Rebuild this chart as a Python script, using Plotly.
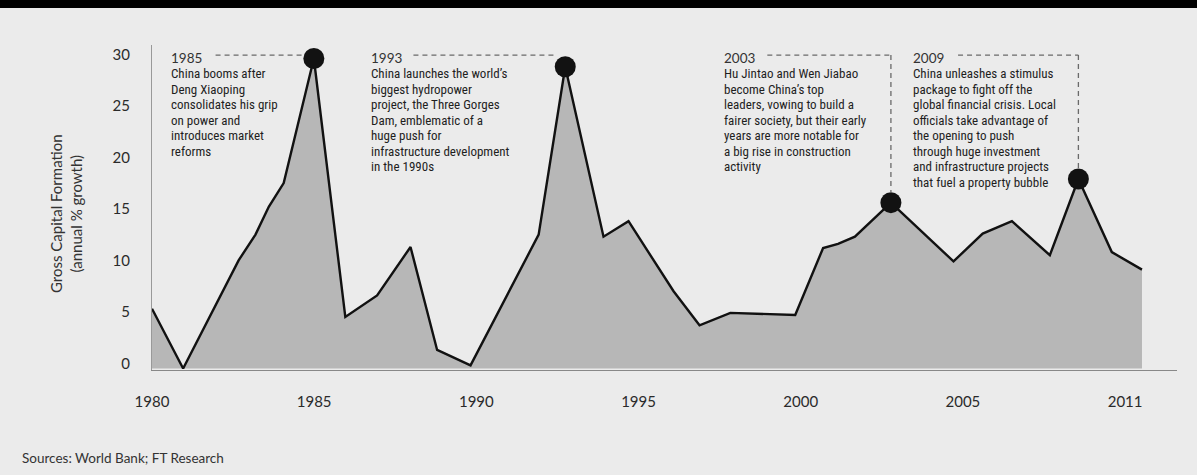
import plotly.graph_objects as go

# ---- data (positions on the time axis, in years, as drawn) ----
x_pos = [1980.00, 1980.96, 1982.67, 1983.19, 1983.60, 1984.06, 1984.99, 1985.96,
         1986.94, 1987.97, 1988.79, 1989.82, 1991.92, 1992.74, 1993.92, 1994.69,
         1996.08, 1996.88, 1997.83, 1998.81, 1999.83, 2000.69, 2001.15, 2001.67,
         2002.78, 2004.71, 2005.61, 2006.51, 2007.68, 2008.56, 2009.59, 2010.52]
growth = [5.8, 0.0, 10.5, 13.0, 15.7, 18.0, 30.1, 5.0,
          7.1, 11.8, 1.8, 0.3, 13.0, 29.3, 12.8, 14.3,
          7.5, 4.2, 5.4, 5.3, 5.2, 11.7, 12.1, 12.8,
          16.1, 10.4, 13.1, 14.3, 11.0, 18.4, 11.3, 9.6]
highlight_idx = [6, 13, 24, 29]

x_tickvals = [1980, 1985, 1990, 1995, 2000, 2005, 2010]
x_ticktext = ["1980", "1985", "1990", "1995", "2000", "2005", "2011"]
y_tickvals = [0, 5, 10, 15, 20, 25, 30]

events = [
    {"year": "1985", "left": 1980.57, "dash_from": 1981.96, "vertical": False,
     "lines": ["China booms after", "Deng Xiaoping", "consolidates his grip",
               "on power and", "introduces market", "reforms"]},
    {"year": "1993", "left": 1986.73, "dash_from": 1988.06, "vertical": False,
     "lines": ["China launches the world\u2019s", "biggest hydropower",
               "project, the Three Gorges", "Dam, emblematic of a", "huge push for",
               "infrastructure development", "in the 1990s"]},
    {"year": "2003", "left": 1997.61, "dash_from": 1998.97, "vertical": True,
     "lines": ["Hu Jintao and Wen Jiabao", "become China\u2019s top",
               "leaders, vowing to build a", "fairer society, but their early",
               "years are more notable for", "a big rise in construction", "activity"]},
    {"year": "2009", "left": 2003.43, "dash_from": 2004.85, "vertical": True,
     "lines": ["China unleashes a stimulus", "package to fight off the",
               "global financial crisis. Local", "officials take advantage of",
               "the opening to push", "through huge investment",
               "and infrastructure projects", "that fuel a property bubble"]},
]

source_text = "Sources: World Bank; FT Research"
y_title = "Gross Capital Formation<br>(annual % growth)"

# ---- layout constants ----
W, H = 1197, 475
ML, MR, MT, MB = 152, 20, 45, 105
BG = "#ebebeb"
FILL = "#b7b7b7"
TXT = "#1e1e1e"
X_RANGE = [1980.0, 2011.6]
Y_RANGE = [-0.146, 31.41]
LABEL_Y = 30.15      # value level of first label row
LINE_STEP = 1.51     # value units between text lines
DASH_Y = 30.43
DOT_R = 0.32         # dot radius in years (for dash end)
DOT_RV = 1.0         # dot radius in value units

plot_w = W - ML - MR
plot_h = H - MT - MB

def px_to_paper_x(px):
    return (px - ML) / plot_w

def px_to_paper_y(py):
    return (H - MB - py) / plot_h

fig = go.Figure()

fig.add_trace(go.Scatter(
    x=x_pos, y=growth, mode="lines", fill="tozeroy",
    fillcolor=FILL, line=dict(color="#111111", width=2.4),
    hoverinfo="skip", showlegend=False))

fig.add_trace(go.Scatter(
    x=[x_pos[i] for i in highlight_idx], y=[growth[i] for i in highlight_idx],
    mode="markers", marker=dict(size=21, color="#121212"),
    hoverinfo="skip", showlegend=False))

shapes = []
annotations = []
DASH = dict(color="#6a6a6a", width=1.3, dash="5px,4px")

for ev, idx in zip(events, highlight_idx):
    dx, dy = x_pos[idx], growth[idx]
    if ev["vertical"]:
        shapes.append(dict(type="line", xref="x", yref="y", x0=ev["dash_from"], x1=dx,
                           y0=DASH_Y, y1=DASH_Y, line=DASH))
        shapes.append(dict(type="line", xref="x", yref="y", x0=dx, x1=dx,
                           y0=DASH_Y, y1=dy + DOT_RV, line=DASH))
    else:
        shapes.append(dict(type="line", xref="x", yref="y", x0=ev["dash_from"], x1=dx - DOT_R,
                           y0=DASH_Y, y1=DASH_Y, line=DASH))
    annotations.append(dict(x=ev["left"], y=LABEL_Y, xref="x", yref="y",
                            text=ev["year"], showarrow=False, xanchor="left", yanchor="middle",
                            font=dict(family="Lato, Open Sans, sans-serif", size=13.5, color="#333333"),
                            borderpad=0))
    for k, line in enumerate(ev["lines"]):
        annotations.append(dict(x=ev["left"], y=LABEL_Y - (k + 1) * LINE_STEP, xref="x", yref="y",
                                text=line, showarrow=False, xanchor="left", yanchor="middle",
                                font=dict(family="Liberation Sans Narrow, Arial Narrow, Roboto Condensed, sans-serif",
                                          size=13, color=TXT),
                                borderpad=0))

# top black band
shapes.append(dict(type="rect", xref="paper", yref="paper",
                   x0=px_to_paper_x(-5), x1=px_to_paper_x(W + 5),
                   y0=px_to_paper_y(8), y1=px_to_paper_y(-5),
                   fillcolor="#000000", line=dict(width=0), layer="above"))

# y-axis title
annotations.append(dict(x=px_to_paper_x(66), y=px_to_paper_y(214), xref="paper", yref="paper",
                        text=y_title, textangle=-90, showarrow=False,
                        xanchor="center", yanchor="middle",
                        font=dict(family="Lato, Open Sans, sans-serif", size=15, color="#333333")))

# source
annotations.append(dict(x=px_to_paper_x(20), y=px_to_paper_y(458), xref="paper", yref="paper",
                        text=source_text, showarrow=False, xanchor="left", yanchor="middle",
                        font=dict(family="Lato, Open Sans, sans-serif", size=13.5, color="#333333")))

fig.update_layout(
    width=W, height=H,
    margin=dict(l=ML, r=MR, t=MT, b=MB, pad=0),
    paper_bgcolor=BG, plot_bgcolor=BG,
    shapes=shapes, annotations=annotations,
    showlegend=False,
    xaxis=dict(range=X_RANGE, tickvals=x_tickvals, ticktext=x_ticktext,
               showgrid=False, zeroline=False, showline=True, linecolor="#888888", linewidth=1.2,
               ticks="outside", ticklen=18, tickcolor="rgba(0,0,0,0)",
               tickfont=dict(family="Lato, Open Sans, sans-serif", size=15, color="#2a2a2a"),
               fixedrange=True),
    yaxis=dict(range=Y_RANGE, tickvals=y_tickvals,
               showgrid=False, zeroline=False, showline=True, linecolor="#999999", linewidth=1,
               ticks="outside", ticklen=18, tickcolor="rgba(0,0,0,0)", ticklabelshift=-5,
               tickfont=dict(family="Lato, Open Sans, sans-serif", size=15, color="#2a2a2a"),
               fixedrange=True),
)

fig.write_html("out.html")
